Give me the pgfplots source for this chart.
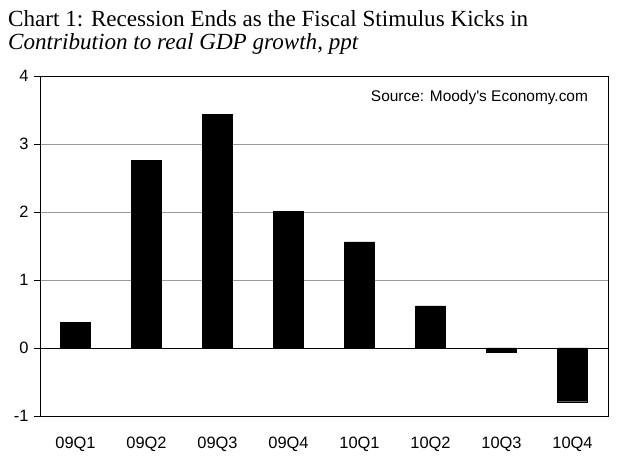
\documentclass[border=0pt]{standalone}
\usepackage{pgfplots}
\pgfplotsset{compat=1.18}
\usepackage{fontspec}
\setmainfont{Liberation Serif}
\newfontfamily\arial{Liberation Sans}
\begin{document}
\begin{tikzpicture}[x=1bp,y=1bp]
\useasboundingbox (0,0) rectangle (640,460);
\node[anchor=base west,inner sep=0pt,font=\fontsize{23.2}{26}\selectfont] at (8,433) {Chart 1: Recession Ends as the Fiscal Stimulus Kicks in};
\node[anchor=base west,inner sep=0pt,font=\fontsize{23.2}{26}\selectfont\itshape] at (8,410) {Contribution to real GDP growth, ppt};
\begin{axis}[
  at={(40bp,44bp)}, anchor=south west,
  width=568bp, height=340bp, scale only axis,
  xmin=-0.5, xmax=7.5, ymin=-1, ymax=4,
  ytick={-1,0,1,2,3,4},
  xtick={0,1,2,3,4,5,6,7},
  xticklabels={09Q1,09Q2,09Q3,09Q4,10Q1,10Q2,10Q3,10Q4},
  ticklabel style={font=\arial\fontsize{16.5}{18}\selectfont},
  /pgf/number format/assume math mode=true,
  yticklabel style={xshift=-2bp},
  xticklabel style={yshift=-12bp},
  x tick style={draw=none},
  y tick style={black, line width=0.6pt},
  tick align=outside, major tick length=6bp,
  ytick pos=left, xtick pos=bottom,
  ymajorgrids, grid style={gray!80, line width=0.6pt},
  axis line style={black, line width=0.8pt},
  extra y ticks={0}, extra y tick labels={},
  extra y tick style={grid style={black, line width=0.8pt}, major tick length=0pt},
]
\addplot[ybar, bar width=30bp, fill=black, draw=black] coordinates {
(0,0.38) (1,2.76) (2,3.44) (3,2.01) (4,1.56) (5,0.62) (6,-0.06) (7,-0.79)};
\node[anchor=base east, font=\arial\fontsize{15.5}{18}\selectfont, inner sep=0pt] at (rel axis cs:0.965,0) [yshift=314bp] {Source: Moody's Economy.com};
\end{axis}
\end{tikzpicture}
\end{document}
